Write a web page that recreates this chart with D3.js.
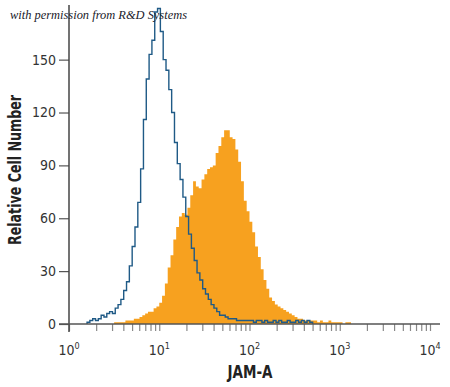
<!DOCTYPE html>
<html>
<head>
<meta charset="utf-8">
<script src="https://cdn.jsdelivr.net/npm/d3@7"></script>
<style>
  body { margin: 0; background: #fff; }
  svg { display: block; }
  .tick text { font-family: "Liberation Sans Narrow", "DejaVu Sans Condensed", sans-serif; font-stretch: condensed; fill: #333; }
</style>
</head>
<body>
<div id="chart"></div>
<script>
// histogram bins are 1/32 of a decade wide; first bin edge given as log10(channel)
var binStep = 1 / 32;
var isotypeStart = 0.2;
var isotypeCounts = [1, 2, 3, 2, 3, 5, 4, 6, 7, 6, 9, 11, 14, 19, 24, 33, 44, 55, 69, 88,
  116, 139, 153, 161, 177, 179, 166, 150, 144, 133, 120, 103, 91, 82, 72, 61, 51, 43, 36, 29,
  25, 20, 17, 14, 11, 9, 7, 5, 5, 4, 3, 3, 3, 2, 2, 2, 2, 2, 2, 1,
  2, 2, 1, 2, 1, 1, 2, 1, 2, 1, 1, 2, 1, 1, 2, 1, 2, 1, 2, 1];
var jamaStart = 0.5;
var jamaCounts = [1, 1, 1, 1, 2, 2, 2, 3, 3, 4, 5, 6, 7, 7, 9, 10, 12, 16, 23, 32,
  39, 48, 55, 61, 63, 62, 66, 73, 81, 78, 77, 82, 85, 88, 89, 90, 97, 101, 106, 110,
  110, 106, 105, 99, 92, 81, 70, 64, 58, 52, 44, 38, 31, 25, 20, 15, 13, 11, 10, 9,
  8, 7, 6, 5, 4, 3, 3, 2, 2, 2, 2, 2, 1, 2, 1, 1, 2, 1, 1, 1, 1, 0, 1, 1];
var yTicks = [0, 30, 60, 90, 120, 150];
var xDecades = [0, 1, 2, 3, 4];

var width = 450, height = 387;
var condensed = "'Liberation Sans Narrow', 'DejaVu Sans Condensed', sans-serif";
var svg = d3.select("#chart").append("svg")
  .attr("width", width)
  .attr("height", height);

var x = d3.scaleLog().domain([1, 10000]).range([69, 430]);
var y = d3.scaleLinear().domain([0, 181]).range([324, 5]);

function binPoints(start, counts) {
  var pts = [[Math.pow(10, start), 0]];
  counts.forEach(function(c, i) {
    pts.push([Math.pow(10, start + i * binStep), c]);
  });
  pts.push([Math.pow(10, start + counts.length * binStep), 0]);
  return pts;
}

// filled JAM-A histogram
var area = d3.area()
  .curve(d3.curveStepAfter)
  .x(function(d) { return x(d[0]); })
  .y0(y(0))
  .y1(function(d) { return y(d[1]); });

svg.append("path")
  .datum(binPoints(jamaStart, jamaCounts))
  .attr("fill", "#f7a11f")
  .attr("d", area);

// isotype control outline
var line = d3.line()
  .curve(d3.curveStepAfter)
  .x(function(d) { return x(d[0]); })
  .y(function(d) { return y(d[1]); });

svg.append("path")
  .datum(binPoints(isotypeStart, isotypeCounts))
  .attr("fill", "none")
  .attr("stroke", "#1f5a86")
  .attr("stroke-width", 1.4)
  .attr("stroke-linejoin", "miter")
  .attr("d", line);

// y axis
var yAxis = svg.append("g")
  .attr("transform", "translate(" + x(1) + ",0)")
  .call(d3.axisLeft(y).tickValues(yTicks).tickSize(10).tickPadding(3));
yAxis.select(".domain").remove();
yAxis.selectAll(".tick line").attr("stroke", "#555").attr("stroke-width", 1.2);
yAxis.selectAll(".tick text").attr("font-size", 14);

// x axis: minor ticks at 2..9 of every decade
var minor = [];
xDecades.forEach(function(d) {
  for (var k = 1; k < 10; k++) {
    if (d < 4 || k === 1) minor.push(k * Math.pow(10, d));
  }
});
var xAxis = svg.append("g")
  .attr("transform", "translate(0," + y(0) + ")")
  .call(d3.axisBottom(x).tickValues(minor).tickSize(7).tickFormat(""));
xAxis.select(".domain").remove();
xAxis.selectAll(".tick line").attr("stroke", "#888").attr("stroke-width", 1.2);

var labels = svg.append("g")
  .attr("font-family", condensed)
  .attr("font-stretch", "condensed")
  .attr("fill", "#333");
xDecades.forEach(function(d) {
  var t = labels.append("text")
    .attr("x", x(Math.pow(10, d)))
    .attr("y", 355)
    .attr("text-anchor", "middle")
    .attr("font-size", 14);
  t.append("tspan").text("10");
  t.append("tspan").attr("dy", -6).attr("font-size", 9).text(d);
});

// axis lines
svg.append("line")
  .attr("x1", x(1)).attr("x2", x(1))
  .attr("y1", y(181)).attr("y2", y(0) + 8)
  .attr("stroke", "#444").attr("stroke-width", 1.5);
svg.append("line")
  .attr("x1", x(1) - 10).attr("x2", 440)
  .attr("y1", y(0)).attr("y2", y(0))
  .attr("stroke", "#555").attr("stroke-width", 1.5);

// titles
svg.append("text")
  .attr("transform", "translate(21,170) rotate(-90)")
  .attr("text-anchor", "middle")
  .attr("font-family", condensed)
  .attr("font-stretch", "condensed")
  .attr("font-weight", "bold")
  .attr("font-size", 17)
  .attr("fill", "#222")
  .attr("textLength", 150)
  .attr("lengthAdjust", "spacingAndGlyphs")
  .text("Relative Cell Number");

svg.append("text")
  .attr("x", 250)
  .attr("y", 378)
  .attr("text-anchor", "middle")
  .attr("font-family", condensed)
  .attr("font-stretch", "condensed")
  .attr("font-weight", "bold")
  .attr("font-size", 17)
  .attr("fill", "#222")
  .attr("textLength", 45)
  .attr("lengthAdjust", "spacingAndGlyphs")
  .text("JAM-A");

svg.append("text")
  .attr("x", 10)
  .attr("y", 19)
  .attr("font-family", "'Liberation Serif', 'DejaVu Serif', serif")
  .attr("font-style", "italic")
  .attr("font-size", 12.5)
  .attr("fill", "#1a1a2a")
  .attr("textLength", 177)
  .attr("lengthAdjust", "spacingAndGlyphs")
  .text("with permission from R&D Systems");
</script>
</body>
</html>
